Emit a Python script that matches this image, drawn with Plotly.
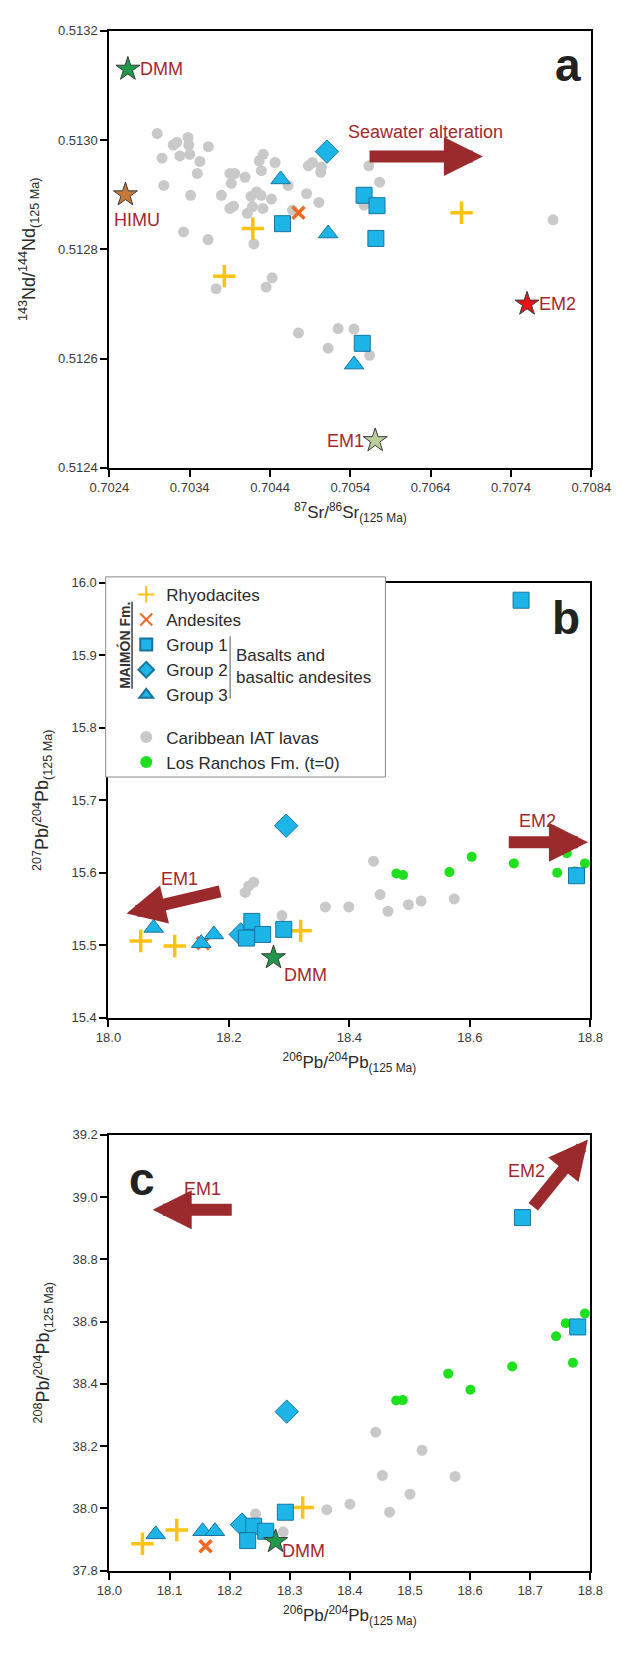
import plotly.graph_objects as go

W, H = 622, 1656
FONT = "Liberation Sans, Arial, sans-serif"
RED = "#A3282D"
ARROW = "#9B2A2D"

# ---------------- Panel a: 87Sr/86Sr vs 143Nd/144Nd ----------------
a_iat_x = [0.702995, 0.703055, 0.703078, 0.703194, 0.703240, 0.703277, 0.703378, 0.703388,
           0.703401, 0.703411, 0.703323, 0.703494, 0.703526, 0.703632, 0.703628, 0.703729,
           0.703794, 0.703900, 0.703918, 0.703900, 0.703960, 0.703946, 0.704089, 0.704117,
           0.704163, 0.704181, 0.704200, 0.704232, 0.704265, 0.704288, 0.704292, 0.704311,
           0.704315, 0.704352, 0.704417, 0.704426, 0.704463, 0.704624, 0.704680, 0.704754,
           0.704855, 0.704878, 0.704929, 0.705007, 0.705040, 0.705031, 0.705123, 0.705248,
           0.705446, 0.705631, 0.705571, 0.705640, 0.705765, 0.707924]
a_iat_y = [0.513012, 0.512967, 0.512917, 0.512991, 0.512996, 0.512971, 0.513005, 0.512991,
           0.512974, 0.512899, 0.512832, 0.512939, 0.512961, 0.512988, 0.512818, 0.512728,
           0.512899, 0.512939, 0.512921, 0.512875, 0.512939, 0.512879, 0.512932, 0.512866,
           0.512897, 0.512878, 0.512810, 0.512905, 0.512962, 0.512899, 0.512944, 0.512875,
           0.512974, 0.512731, 0.512892, 0.512748, 0.512959, 0.512917, 0.512872, 0.512647,
           0.512902, 0.512953, 0.512959, 0.512886, 0.512951, 0.512941, 0.512619, 0.512655,
           0.512654, 0.512953, 0.512881, 0.512606, 0.512923, 0.512854]
a_rhyo_x = [0.703831, 0.704186, 0.706784]
a_rhyo_y = [0.512751, 0.512838, 0.512867]
a_and_x = [0.704754]
a_and_y = [0.512867]
a_g1_x = [0.704555, 0.705571, 0.705732, 0.705718, 0.705548]
a_g1_y = [0.512847, 0.512899, 0.512880, 0.512820, 0.512628]
a_g2_x = [0.705109]
a_g2_y = [0.512979]
a_g3_x = [0.704532, 0.705123, 0.705446]
a_g3_y = [0.512928, 0.512829, 0.512589]
a_end_names = ["DMM", "HIMU", "EM1", "EM2"]
a_end_x = [0.70263, 0.70260, 0.70571, 0.70760]
a_end_y = [0.51313, 0.51290, 0.51245, 0.51270]
a_end_colors = ["#1E9A4A", "#C67A3A", "#B9CF9B", "#E8141C"]

# ---------------- Panel b: 206Pb/204Pb vs 207Pb/204Pb ----------------
b_iat_x = [18.227, 18.233, 18.241, 18.288, 18.360, 18.399, 18.440, 18.451, 18.464, 18.498, 18.519, 18.574]
b_iat_y = [15.573, 15.582, 15.587, 15.541, 15.553, 15.553, 15.616, 15.570, 15.547, 15.556, 15.561, 15.564]
b_lr_x = [18.478, 18.489, 18.566, 18.603, 18.673, 18.745, 18.761, 18.774, 18.791]
b_lr_y = [15.599, 15.597, 15.601, 15.622, 15.613, 15.600, 15.627, 15.602, 15.613]
b_rhyo_x = [18.0535, 18.110, 18.319]
b_rhyo_y = [15.506, 15.499, 15.520]
b_and_x = [18.157]
b_and_y = [15.503]
b_g1_x = [18.685, 18.238, 18.229, 18.256, 18.291, 18.777]
b_g1_y = [15.976, 15.533, 15.510, 15.515, 15.522, 15.596]
b_g2_x = [18.295, 18.2195]
b_g2_y = [15.665, 15.515]
b_g3_x = [18.075, 18.154, 18.175]
b_g3_y = [15.524, 15.503, 15.515]
b_dmm_x = [18.274]
b_dmm_y = [15.483]

# ---------------- Panel c: 206Pb/204Pb vs 208Pb/204Pb ----------------
c_iat_x = [18.243, 18.289, 18.3615, 18.400, 18.443, 18.454, 18.466, 18.500, 18.520, 18.575]
c_iat_y = [37.982, 37.925, 37.996, 38.014, 38.245, 38.106, 37.988, 38.046, 38.187, 38.103]
c_lr_x = [18.477, 18.488, 18.5635, 18.6005, 18.670, 18.743, 18.759, 18.771, 18.791]
c_lr_y = [38.347, 38.348, 38.433, 38.381, 38.456, 38.553, 38.595, 38.468, 38.626]
c_rhyo_x = [18.055, 18.112, 18.3215]
c_rhyo_y = [37.887, 37.931, 38.003]
c_and_x = [18.160]
c_and_y = [37.879]
c_g1_x = [18.687, 18.240, 18.260, 18.230, 18.2926, 18.779]
c_g1_y = [38.934, 37.943, 37.927, 37.897, 37.988, 38.583]
c_g2_x = [18.295, 18.2205]
c_g2_y = [38.311, 37.948]
c_g3_x = [18.077, 18.155, 18.1755]
c_g3_y = [37.917, 37.927, 37.927]
c_dmm_x = [18.2765]
c_dmm_y = [37.894]

# ---------------- styles ----------------
STY = {
    "iat": dict(symbol="circle", size=11, color="#C9C9C9", line=dict(width=0)),
    "lr": dict(symbol="circle", size=10, color="#1EE01E", line=dict(width=0)),
    "rhyo": dict(symbol="cross-thin", size=16, color="#FFC20E", line=dict(width=3.5, color="#FFC20E")),
    "and": dict(symbol="x-thin", size=12, color="#F06A22", line=dict(width=3.5, color="#F06A22")),
    "g1": dict(symbol="square", size=16, color="#1DB4E8", line=dict(width=1, color="#17759E")),
    "g2": dict(symbol="diamond", size=18, color="#1DB4E8", line=dict(width=1, color="#17759E")),
    "g3": dict(symbol="triangle-up", size=17, color="#1DB4E8", line=dict(width=1, color="#17759E")),
}
NAMES = {"rhyo": "Rhyodacites", "and": "Andesites", "g1": "Group 1", "g2": "Group 2",
         "g3": "Group 3", "iat": "Caribbean IAT lavas", "lr": "Los Ranchos Fm. (t=0)"}
GROUP = {"rhyo": "m", "and": "m", "g1": "m", "g2": "m", "g3": "m", "iat": "o", "lr": "o"}
RANK = {"rhyo": 1, "and": 2, "g1": 3, "g2": 4, "g3": 5, "iat": 6, "lr": 7}

fig = go.Figure()


def add(key, xs, ys, axis, legend=False):
    fig.add_trace(go.Scatter(
        x=xs, y=ys, mode="markers", name=NAMES[key], marker=STY[key],
        xaxis="x" + axis, yaxis="y" + axis, showlegend=legend,
        legendgroup=GROUP[key], legendrank=RANK[key], hoverinfo="x+y+name"))


def star(xs, ys, colors, axis, size=18):
    fig.add_trace(go.Scatter(x=xs, y=ys, mode="markers", name="End-member",
                             marker=dict(symbol="star", size=size, color=colors,
                                         line=dict(width=1, color="#3A3A3A")),
                             xaxis="x" + axis, yaxis="y" + axis, showlegend=False))


# panel a
add("iat", a_iat_x, a_iat_y, "")
add("rhyo", a_rhyo_x, a_rhyo_y, "")
add("and", a_and_x, a_and_y, "")
add("g1", a_g1_x, a_g1_y, "")
add("g2", a_g2_x, a_g2_y, "")
add("g3", a_g3_x, a_g3_y, "")
star(a_end_x, a_end_y, a_end_colors, "")
# panel b
add("iat", b_iat_x, b_iat_y, "2", True)
add("lr", b_lr_x, b_lr_y, "2", True)
add("rhyo", b_rhyo_x, b_rhyo_y, "2", True)
add("and", b_and_x, b_and_y, "2", True)
add("g2", b_g2_x, b_g2_y, "2", True)
add("g1", b_g1_x, b_g1_y, "2", True)
add("g3", b_g3_x, b_g3_y, "2", True)
star(b_dmm_x, b_dmm_y, "#1E9A4A", "2")
# panel c
add("iat", c_iat_x, c_iat_y, "3")
add("lr", c_lr_x, c_lr_y, "3")
add("rhyo", c_rhyo_x, c_rhyo_y, "3")
add("and", c_and_x, c_and_y, "3")
add("g2", c_g2_x, c_g2_y, "3")
add("g1", c_g1_x, c_g1_y, "3")
add("g3", c_g3_x, c_g3_y, "3")
star(c_dmm_x, c_dmm_y, "#1E9A4A", "3")


def px_x(p):
    return p / W


def px_y(p):
    return 1 - p / H


def axis(domain, rng, dtick, fmt, title, anchor, tsize, standoff):
    return dict(domain=domain, range=rng, dtick=dtick, tick0=rng[0], tickformat=fmt,
                showline=True, linecolor="black", linewidth=2, mirror=True,
                ticks="outside", ticklen=7, tickwidth=2, tickcolor="black",
                showgrid=False, zeroline=False, anchor=anchor,
                tickfont=dict(family=FONT, size=13, color="#3A3A3A"),
                title=dict(text=title, font=dict(family=FONT, size=tsize, color="#2A2A2A"),
                           standoff=standoff))


SRT = "<sup>87</sup>Sr/<sup>86</sup>Sr<sub>(125 Ma)</sub>"
NDT = "<sup>143</sup>Nd/<sup>144</sup>Nd<sub>(125 Ma)</sub>"
P6 = "<sup>206</sup>Pb/<sup>204</sup>Pb<sub>(125 Ma)</sub>"
P7 = "<sup>207</sup>Pb/<sup>204</sup>Pb<sub>(125 Ma)</sub>"
P8 = "<sup>208</sup>Pb/<sup>204</sup>Pb<sub>(125 Ma)</sub>"

fig.update_layout(
    width=W, height=H, margin=dict(l=0, r=0, t=0, b=0),
    paper_bgcolor="white", plot_bgcolor="white",
    font=dict(family=FONT, color="#2A2A2A"),
    xaxis=axis([px_x(87), px_x(602)], [0.7024, 0.7084], 0.001, ".4f", SRT, "y", 17, 12),
    yaxis=axis([px_y(457), px_y(16)], [0.5124, 0.5132], 0.0002, ".4f", NDT, "x", 18, 18),
    xaxis2=axis([px_x(86), px_x(601)], [18.0, 18.8], 0.2, ".1f", P6, "y2", 17, 12),
    yaxis2=axis([px_y(1012), px_y(573)], [15.4, 16.0], 0.1, ".1f", P7, "x2", 18, 18),
    xaxis3=axis([px_x(87), px_x(601)], [18.0, 18.8], 0.1, ".1f", P6, "y3", 17, 12),
    yaxis3=axis([px_y(1570), px_y(1130)], [37.8, 39.2], 0.2, ".1f", P8, "x3", 18, 18),
    legend=dict(x=px_x(105), y=px_y(567), xanchor="left", yanchor="top",
                bgcolor="rgba(0,0,0,0)", borderwidth=0, itemsizing="constant",
                traceorder="grouped", tracegroupgap=17,
                font=dict(family=FONT, size=17, color="#2A2A2A")),
    showlegend=True,
)

# legend frame and bracket
fig.add_shape(type="rect", xref="paper", yref="paper", x0=px_x(83), x1=px_x(382),
              y0=px_y(769), y1=px_y(567), fillcolor="white", line=dict(color="#8A8A8A", width=1),
              layer="above")
fig.add_shape(type="line", xref="paper", yref="paper", x0=px_x(216), x1=px_x(216),
              y0=px_y(690), y1=px_y(627), line=dict(color="#555", width=1), layer="above")

lab = dict(family=FONT, size=18, color=RED)
big = dict(family="Liberation Sans, Arial", size=46, color="#222")
arrow = dict(text="", showarrow=True, arrowhead=2, arrowsize=0.65, arrowwidth=12,
             arrowcolor=ARROW)
ann = []
# panel a labels
ann += [
    dict(x=a_end_x[0], y=a_end_y[0], xref="x", yref="y", text="DMM", showarrow=False,
         xanchor="left", xshift=10, font=lab),
    dict(x=a_end_x[1], y=a_end_y[1], xref="x", yref="y", text="HIMU", showarrow=False,
         xanchor="center", xshift=12, yshift=-25, font=lab),
    dict(x=a_end_x[2], y=a_end_y[2], xref="x", yref="y", text="EM1", showarrow=False,
         xanchor="right", xshift=-9, font=lab),
    dict(x=a_end_x[3], y=a_end_y[3], xref="x", yref="y", text="EM2", showarrow=False,
         xanchor="left", xshift=10, font=lab),
    dict(x=0.70633, y=0.513014, xref="x", yref="y", text="Seawater alteration",
         showarrow=False, font=lab),
    dict(x=0.70705, y=0.51297, ax=0.70562, ay=0.51297, xref="x", yref="y", axref="x",
         ayref="y", **arrow),
    dict(x=0.70811, y=0.513138, xref="x", yref="y", text="<b>a</b>", showarrow=False, font=big),
]
# panel b labels
ann += [
    dict(x=18.327, y=15.459, xref="x2", yref="y2", text="DMM", showarrow=False, font=lab),
    dict(x=18.118, y=15.592, xref="x2", yref="y2", text="EM1", showarrow=False, font=lab),
    dict(x=18.713, y=15.671, xref="x2", yref="y2", text="EM2", showarrow=False, font=lab),
    dict(x=18.030, y=15.544, ax=18.188, ay=15.575, xref="x2", yref="y2", axref="x2",
         ayref="y2", **arrow),
    dict(x=18.796, y=15.642, ax=18.662, ay=15.642, xref="x2", yref="y2", axref="x2",
         ayref="y2", **arrow),
    dict(x=18.759, y=15.951, xref="x2", yref="y2", text="<b>b</b>", showarrow=False, font=big),
    dict(x=px_x(92), y=px_y(636), xref="paper", yref="paper", text="<b><u>MAIMÓN Fm.</u></b>",
         textangle=-90, showarrow=False, font=dict(family=FONT, size=14, color="#333")),
    dict(x=px_x(220), y=px_y(657), xref="paper", yref="paper", xanchor="left",
         text="Basalts and<br>basaltic andesites", align="left", showarrow=False,
         font=dict(family=FONT, size=17, color="#2A2A2A")),
]
# panel c labels
ann += [
    dict(x=18.323, y=37.864, xref="x3", yref="y3", text="DMM", showarrow=False, font=lab),
    dict(x=18.155, y=39.026, xref="x3", yref="y3", text="EM1", showarrow=False, font=lab),
    dict(x=18.693, y=39.085, xref="x3", yref="y3", text="EM2", showarrow=False, font=lab),
    dict(x=18.072, y=38.959, ax=18.206, ay=38.959, xref="x3", yref="y3", axref="x3",
         ayref="y3", **arrow),
    dict(x=18.796, y=39.185, ax=18.703, ay=38.964, xref="x3", yref="y3", axref="x3",
         ayref="y3", **arrow),
    dict(x=18.054, y=39.058, xref="x3", yref="y3", text="<b>c</b>", showarrow=False, font=big),
]
fig.update_layout(annotations=ann)

fig.write_html("out.html")
